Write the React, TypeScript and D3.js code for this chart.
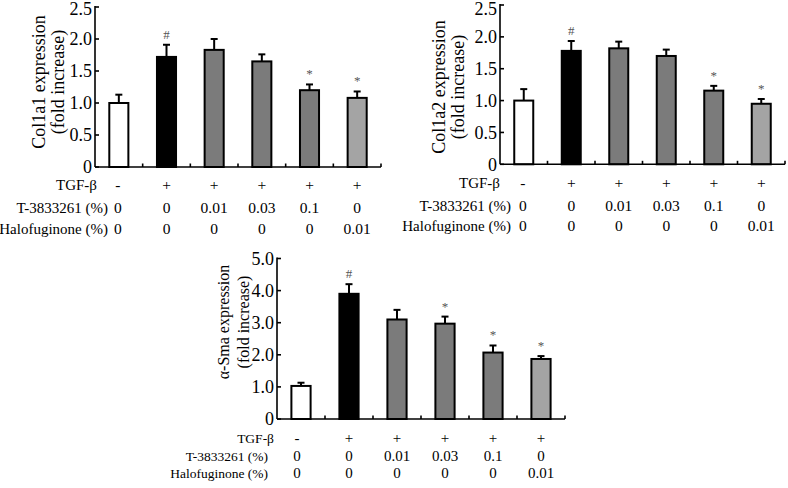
import React from "react";
import * as d3 from "d3";

const tgfRow = ["-", "+", "+", "+", "+", "+"];
const t3833261Row = ["0", "0", "0.01", "0.03", "0.1", "0"];
const halofuginoneRow = ["0", "0", "0", "0", "0", "0.01"];
const rowLabels = ["TGF-β", "T-3833261 (%)", "Halofuginone (%)"];

const col1a1Values = [1.0, 1.72, 1.83, 1.65, 1.2, 1.08];
const col1a1Errors = [0.13, 0.19, 0.17, 0.11, 0.09, 0.1];
const col1a1Marks = ["", "#", "", "", "*", "*"];

const col1a2Values = [1.0, 1.78, 1.82, 1.7, 1.156, 0.95];
const col1a2Errors = [0.18, 0.155, 0.105, 0.1, 0.075, 0.075];
const col1a2Marks = ["", "#", "", "", "*", "*"];

const smaValues = [1.03, 3.9, 3.1, 2.97, 2.07, 1.87];
const smaErrors = [0.1, 0.3, 0.3, 0.22, 0.22, 0.09];
const smaMarks = ["", "#", "", "*", "*", "*"];

const col1TicksVals = [0, 0.5, 1.0, 1.5, 2.0, 2.5];
const smaTicksVals = [0, 1, 2, 3, 4, 5];

const barColors = ["#ffffff", "#000000", "#7b7b7b", "#7b7b7b", "#7b7b7b", "#a4a4a4"];

const FONT = "'Liberation Serif', 'Times New Roman', Times, serif";

type PanelProps = {
  values: number[];
  errors: number[];
  marks: string[];
  ticks: number[];
  yMax: number;
  title1: string;
  title2: string;
  ax: number;
  axEnd: number;
  y0: number;
  yTop: number;
  titleX1: number;
  titleX2: number;
  titleY: number;
  titleSize: number;
  tickSize: number;
  rowYs: number[];
  rowLabelSize: number;
  rowValueSize: number;
  tgfEnd: number;
  labelEnd: number;
  firstColShift: number;
};

function Panel(p: PanelProps) {
  const idx = d3.range(p.values.length).map(String);
  const x = d3.scaleBand<string>().domain(idx).range([p.ax, p.axEnd]).padding(0);
  const y = d3.scaleLinear().domain([0, p.yMax]).range([p.y0, p.yTop]);
  const bw = x.bandwidth() * 0.4;
  const rows = [tgfRow, t3833261Row, halofuginoneRow];
  const fmt = (v: number) => (v === 0 ? "0" : d3.format(".1f")(v));
  return (
    <g>
      {p.values.map((v, i) => {
        const cx = (x(String(i)) as number) + x.bandwidth() / 2;
        const top = y(v);
        const et = y(v + p.errors[i]);
        return (
          <g key={i}>
            <line x1={cx} x2={cx} y1={top} y2={et} stroke="#000" strokeWidth={2} />
            <line x1={cx - 3.5} x2={cx + 3.5} y1={et} y2={et} stroke="#000" strokeWidth={2} />
            <rect x={cx - bw / 2} y={top} width={bw} height={p.y0 - top} fill={barColors[i]} stroke="#000" strokeWidth={2} />
            {p.marks[i] && (
              <text x={cx} y={et - 6} textAnchor="middle" fontFamily={FONT} fontSize={13} fill="#555">
                {p.marks[i]}
              </text>
            )}
          </g>
        );
      })}
      <line x1={p.ax} x2={p.ax} y1={p.yTop - 1} y2={p.y0} stroke="#000" strokeWidth={1.6} />
      <line x1={p.ax} x2={p.axEnd} y1={p.y0} y2={p.y0} stroke="#000" strokeWidth={1.6} />
      {p.ticks.map((t) => (
        <g key={t}>
          <line x1={p.ax} x2={p.ax + 4} y1={y(t)} y2={y(t)} stroke="#000" strokeWidth={1.6} />
          <text x={p.ax - 3} y={Math.max(y(t), 8.5)} dy="0.35em" textAnchor="end" fontFamily={FONT} fontSize={p.tickSize} fill="#000">
            {fmt(t)}
          </text>
        </g>
      ))}
      {idx.map((k) => {
        const bx = (x(k) as number) + x.bandwidth();
        return <line key={k} x1={bx} x2={bx} y1={p.y0} y2={p.y0 - 3.5} stroke="#000" strokeWidth={1.6} />;
      })}
      <g transform={`translate(${p.titleX1},${p.titleY}) rotate(-90)`}>
        <text textAnchor="middle" fontFamily={FONT} fontSize={p.titleSize} fill="#000">{p.title1}</text>
      </g>
      <g transform={`translate(${p.titleX2},${p.titleY}) rotate(-90)`}>
        <text textAnchor="middle" fontFamily={FONT} fontSize={p.titleSize} fill="#000">{p.title2}</text>
      </g>
      {rows.map((row, r) => (
        <g key={r}>
          <text x={r === 0 ? p.tgfEnd : p.labelEnd} y={p.rowYs[r]} dy="0.35em" textAnchor="end" fontFamily={FONT} fontSize={p.rowLabelSize} fill="#000">
            {rowLabels[r]}
          </text>
          {row.map((v, i) => {
            const cx = (x(String(i)) as number) + x.bandwidth() / 2 + (i === 0 ? p.firstColShift : 0);
            return (
              <text key={i} x={cx} y={p.rowYs[r]} dy="0.35em" textAnchor="middle" fontFamily={FONT} fontSize={p.rowValueSize} fill="#000">
                {v}
              </text>
            );
          })}
        </g>
      ))}
    </g>
  );
}

export default function App() {
  return (
    <svg width={788} height={488} style={{ position: "absolute", left: 0, top: 0, background: "#fff" }}>
      <rect width={788} height={488} fill="#fff" />
      <Panel
        values={col1a1Values}
        errors={col1a1Errors}
        marks={col1a1Marks}
        ticks={col1TicksVals}
        yMax={2.5}
        title1="Col1a1 expression"
        title2="(fold increase)"
        ax={95}
        axEnd={381}
        y0={167}
        yTop={7}
        titleX1={45}
        titleX2={64}
        titleY={82}
        titleSize={18}
        tickSize={18}
        rowYs={[185, 208, 229]}
        rowLabelSize={15}
        rowValueSize={15.5}
        tgfEnd={97}
        labelEnd={108}
        firstColShift={-1}
      />
      <Panel
        values={col1a2Values}
        errors={col1a2Errors}
        marks={col1a2Marks}
        ticks={col1TicksVals}
        yMax={2.5}
        title1="Col1a2 expression"
        title2="(fold increase)"
        ax={500}
        axEnd={785}
        y0={164.3}
        yTop={5}
        titleX1={445}
        titleX2={464}
        titleY={87}
        titleSize={18}
        tickSize={18}
        rowYs={[183, 206, 226]}
        rowLabelSize={15}
        rowValueSize={15.5}
        tgfEnd={500}
        labelEnd={511}
        firstColShift={-1}
      />
      <Panel
        values={smaValues}
        errors={smaErrors}
        marks={smaMarks}
        ticks={smaTicksVals}
        yMax={5}
        title1="α-Sma expression"
        title2="(fold increase)"
        ax={277}
        axEnd={565}
        y0={419}
        yTop={258.5}
        titleX1={229}
        titleX2={249}
        titleY={322}
        titleSize={16}
        tickSize={18}
        rowYs={[438, 456, 473]}
        rowLabelSize={13.5}
        rowValueSize={15}
        tgfEnd={274}
        labelEnd={268}
        firstColShift={-4}
      />
    </svg>
  );
}
